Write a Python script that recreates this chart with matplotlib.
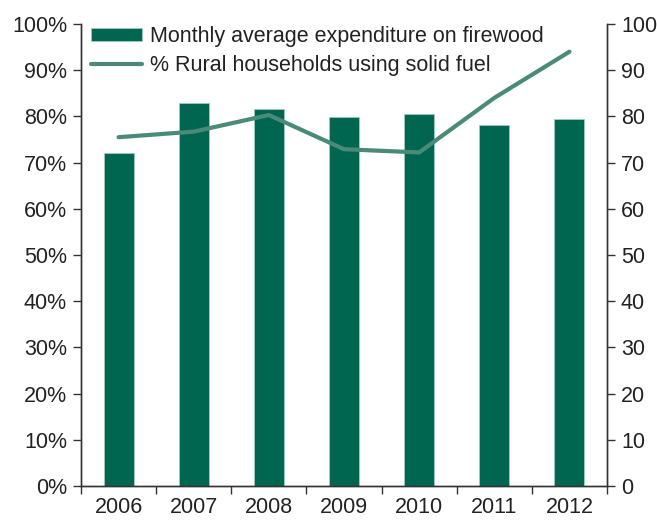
import matplotlib
matplotlib.use("Agg")
import matplotlib.pyplot as plt
from matplotlib.ticker import FixedLocator, NullFormatter
import numpy as np

plt.rcParams['font.family'] = ['Liberation Sans', 'DejaVu Sans']

years = ['2006', '2007', '2008', '2009', '2010', '2011', '2012']
# monthly average expenditure on firewood (right axis)
expenditure = [72.0, 82.8, 81.5, 79.8, 80.6, 78.1, 79.4]
# share of rural households using solid fuel (left axis, %)
solid_fuel_pct = [75.5, 76.7, 80.3, 72.9, 72.2, 84.0, 94.0]

BAR_COLOR = '#00664f'
LINE_COLOR = '#4a8a78'
TEXT_COLOR = '#222222'
FS = 15.5

fig = plt.figure(figsize=(6.57, 5.21), dpi=100)
ax = fig.add_axes([81 / 657, 1 - 486 / 521, (607 - 81) / 657, (486 - 24) / 521])
ax2 = ax.twinx()

x = np.arange(len(years))
bars = ax2.bar(x, expenditure, width=0.4, color=BAR_COLOR, edgecolor='#9ccfc0',
               linewidth=0.6, label='Monthly average expenditure on firewood')
line, = ax.plot(x, solid_fuel_pct, color=LINE_COLOR, linewidth=3,
                solid_capstyle='round', label='% Rural households using solid fuel')
ax.set_zorder(ax2.get_zorder() + 1)
ax.patch.set_visible(False)

ax.set_xlim(-0.5, len(years) - 0.5)
ax.set_ylim(0, 100)
ax2.set_ylim(0, 100)
ax.set_yticks(np.arange(0, 101, 10))
ax.set_yticklabels([f'{v}%' for v in range(0, 101, 10)])
ax2.set_yticks(np.arange(0, 101, 10))

# year labels sit under the bars, tick marks sit between them
ax.set_xticks(x)
ax.set_xticklabels(years)
ax.tick_params(axis='x', which='major', length=0, pad=8)
ax.xaxis.set_minor_locator(FixedLocator(np.arange(-0.5, len(years), 1)))
ax.xaxis.set_minor_formatter(NullFormatter())
ax.tick_params(axis='x', which='minor', length=6, width=1, color='#333333', direction='out')

for a in (ax, ax2):
    a.spines['top'].set_visible(False)
    for side in ('left', 'right', 'bottom'):
        a.spines[side].set_color('#333333')
        a.spines[side].set_linewidth(1)
    a.tick_params(axis='y', length=6, width=1, color='#333333', labelsize=FS,
                  labelcolor=TEXT_COLOR, pad=4)
ax.tick_params(axis='x', labelsize=FS, labelcolor=TEXT_COLOR)

leg = ax.legend([bars, line], [bars.get_label(), line.get_label()],
                loc='upper left', bbox_to_anchor=(-0.017, 1.038), frameon=False,
                fontsize=FS, handlelength=2.37, handleheight=0.56,
                handletextpad=0.33, labelspacing=0.39)
for t in leg.get_texts():
    t.set_color(TEXT_COLOR)

fig.savefig('out.png', dpi=100)
